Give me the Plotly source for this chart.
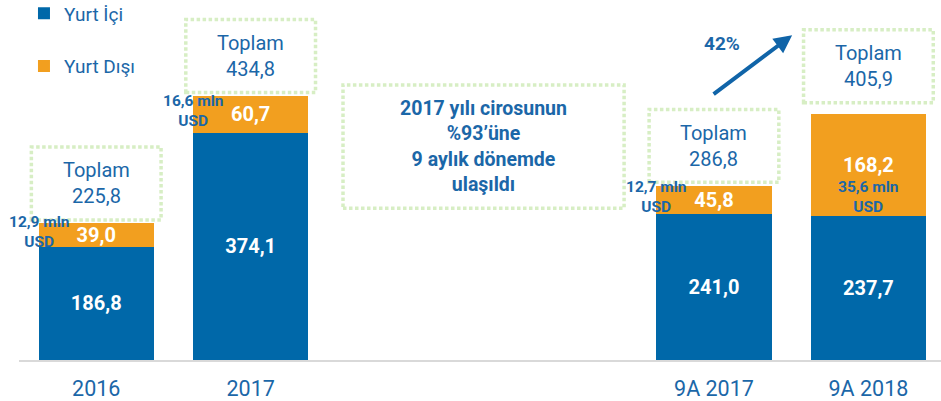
import plotly.graph_objects as go

# ---- data ----
categories = ["2016", "2017", "9A 2017", "9A 2018"]
yurt_ici = [186.8, 374.1, 241.0, 237.7]
yurt_disi = [39.0, 60.7, 45.8, 168.2]
totals = [225.8, 434.8, 286.8, 405.9]
usd_notes = ["12,9 mln<br>USD", "16,6 mln<br>USD", "12,7 mln<br>USD", "35,6 mln<br>USD"]
growth_label = "42%"
center_note = "2017 yılı cirosunun<br>%93’üne<br>9 aylık dönemde<br>ulaşıldı"
series_names = ["Yurt İçi", "Yurt Dışı"]

# ---- layout helpers (positions / styles) ----
slots = [0, 1, 4, 5]
BLUE = "#0068A9"
ORANGE = "#F29F1F"
TEXT = "#1B67A8"
BOX = "#D7EEC4"
FONT = "Roboto"


def fmt(v):
    return f"{v:.1f}".replace(".", ",")


fig = go.Figure()
fig.add_trace(go.Bar(
    x=slots, y=yurt_ici, name=series_names[0], marker_color=BLUE,
    marker_line_width=0, width=0.745, legendgroup="a",
    text=[fmt(v) for v in yurt_ici], textposition="inside",
    insidetextanchor="middle", constraintext="none", textangle=0,
    textfont=dict(family=FONT, size=20, color="white", weight=700),
    hoverinfo="skip",
))
fig.add_trace(go.Bar(
    x=slots, y=yurt_disi, name=series_names[1], marker_color=ORANGE,
    marker_line_width=0, width=0.745, legendgroup="b",
    text=[fmt(v) for v in yurt_disi], textposition="inside",
    insidetextanchor="middle", constraintext="none", textangle=0,
    textfont=dict(family=FONT, size=20, color="white", weight=700),
    hoverinfo="skip",
))

shapes = []
annotations = []
half_w = 0.42
gaps = [5, 6, 6, 18]
box_h = 120
for i, s in enumerate(slots):
    y0 = totals[i] + gaps[i]
    shapes.append(dict(type="rect", xref="x", yref="y", x0=s - half_w, x1=s + half_w,
                       y0=y0, y1=y0 + box_h,
                       line=dict(color=BOX, width=3.5, dash="3.5px,2.5px")))
    annotations.append(dict(x=s, y=y0 + box_h / 2, xref="x", yref="y",
                            text=f"Toplam<br>{fmt(totals[i])}", showarrow=False,
                            font=dict(family=FONT, size=20, color=TEXT)))
    if i < 3:
        nx = s - 0.37
        ny = yurt_ici[i] + yurt_disi[i] / 2 + 5
    else:
        nx = s
        ny = yurt_ici[i] + yurt_disi[i] / 2 - 54
    annotations.append(dict(x=nx, y=ny, xref="x", yref="y", text=usd_notes[i],
                            showarrow=False,
                            font=dict(family=FONT, size=15.5, color=TEXT, weight=700)))

# center note box
shapes.append(dict(type="rect", xref="x", yref="y", x0=1.598, x1=3.418, y0=250, y1=453,
                   line=dict(color=BOX, width=3.5, dash="3.5px,2.5px")))
annotations.append(dict(x=2.51, y=352, xref="x", yref="y", text=center_note,
                        showarrow=False,
                        font=dict(family=FONT, size=19.5, color=TEXT, weight=700)))

# growth arrow
annotations.append(dict(x=4.506, y=535, xref="x", yref="y", ax=-80, ay=60,
                        text="", showarrow=True, arrowhead=2, arrowsize=0.9,
                        arrowwidth=4, arrowcolor="#1064A8"))
annotations.append(dict(x=4.053, y=522, xref="x", yref="y", text=growth_label,
                        showarrow=False,
                        font=dict(family=FONT, size=19, color=TEXT, weight=700)))

fig.update_layout(
    width=941, height=401,
    margin=dict(l=19, r=0, t=0, b=41, autoexpand=False),
    barmode="stack",
    paper_bgcolor="white", plot_bgcolor="white",
    font=dict(family=FONT, color=TEXT),
    shapes=shapes, annotations=annotations,
    showlegend=True,
    legend=dict(xref="paper", yref="paper", x=0.0054, y=1.0156,
                xanchor="left", yanchor="top", traceorder="grouped",
                tracegroupgap=25, font=dict(family=FONT, size=19, color=TEXT),
                bgcolor="rgba(0,0,0,0)"),
    xaxis=dict(range=[-0.5, 5.47], tickvals=slots, ticktext=categories,
               showgrid=False, zeroline=False, showline=True, linecolor="#D9D9D9",
               linewidth=2, ticks="", ticklabelstandoff=8,
               tickfont=dict(family=FONT, size=21.5, color=TEXT)),
    yaxis=dict(range=[0, 593], visible=False, showgrid=False, zeroline=False),
)

fig.write_html(
    "out.html",
    config={"displayModeBar": False, "staticPlot": True},
    post_script="document.body.style.margin='0';document.body.style.overflow='hidden';",
)
